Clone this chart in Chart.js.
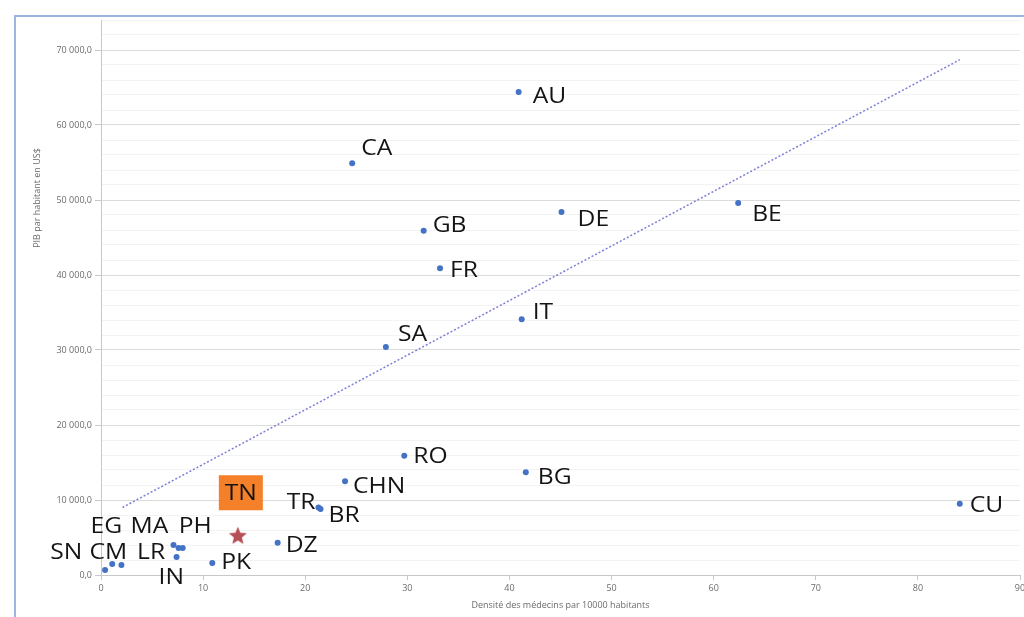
<!DOCTYPE html>
<html>
<head>
<meta charset="utf-8">
<script src="https://cdn.jsdelivr.net/npm/chart.js@4"></script>
<style>
  html, body { margin: 0; padding: 0; background: #fff; overflow: hidden; }
  #wrap { width: 1024px; height: 617px; overflow: hidden; }
</style>
</head>
<body>
<div id="wrap"><canvas id="chart" width="1032" height="617"></canvas></div>
<script>
// données
const pays = ["AU", "CA", "GB", "DE", "BE", "FR", "IT", "SA", "RO", "BG", "CHN", "TR", "BR", "CU", "DZ", "PK", "EG", "MA", "PH", "IN", "SN", "CM", "LR"];
const densite = [40.9, 24.6, 31.6, 45.1, 62.4, 33.2, 41.2, 27.9, 29.7, 41.6, 23.9, 21.3, 21.5, 84.1, 17.3, 10.9, 7.1, 7.6, 8.0, 7.4, 1.1, 2.0, 0.4];
const pib = [64400, 54900, 45900, 48400, 49600, 40900, 34100, 30400, 15900, 13700, 12500, 9000, 8800, 9500, 4300, 1600, 4000, 3600, 3600, 2400, 1470, 1330, 670];

// Tunisie (étoile)
const tnDensite = [13.4];
const tnPib = [5300];

// courbe de tendance
const tendanceX = [2.1, 84.1];
const tendanceY = [9000, 68700];

// axes
const xTicks = [0, 10, 20, 30, 40, 50, 60, 70, 80, 90];
const yTicks = [0, 10000, 20000, 30000, 40000, 50000, 60000, 70000];

// décalage des étiquettes par rapport au point [dx, dy]
const decalage = {
  AU: [14, 5], CA: [9, -15], GB: [9, -5], DE: [16, 8], BE: [14, 12], FR: [10, 2],
  IT: [11, -7], SA: [12, -12], RO: [9, 1], BG: [12, 5], CHN: [8, 5], TR: [-3, -5],
  BR: [8, 7], CU: [10, 2], DZ: [8, 3], PK: [9, 0], EG: [-83, -18], MA: [-48, -21],
  PH: [-4, -21], IN: [-18, 21], SN: [-62, -11], CM: [-32, -12], LR: [32, -17],
};

// étoile pleine pour TN
function starImage() {
  const c = document.createElement("canvas");
  c.width = 22;
  c.height = 22;
  const g = c.getContext("2d");
  g.beginPath();
  for (let i = 0; i < 10; i++) {
    const r = i % 2 === 0 ? 9.5 : 4.2;
    const a = -Math.PI / 2 + (i * Math.PI) / 5;
    g.lineTo(11 + r * Math.cos(a), 12 + r * Math.sin(a));
  }
  g.closePath();
  g.fillStyle = "#b54e55";
  g.fill();
  return c;
}

function frNombre(v) {
  const s = Math.round(v).toString().replace(/\B(?=(\d{3})+(?!\d))/g, " ");
  return s + ",0";
}

// texte élargi (la police d'origine est plus large)
function texteLarge(ctx, txt, x, y, align) {
  const sx = 1.12;
  const w = ctx.measureText(txt).width * sx;
  let left = x;
  if (align === "right") left = x - w;
  if (align === "center") left = x - w / 2;
  ctx.save();
  ctx.translate(left, y);
  ctx.scale(sx, 1);
  ctx.textAlign = "left";
  ctx.fillText(txt, 0, 0);
  ctx.restore();
}

// fond, cadre, titre vertical et étiquettes
const decorPlugin = {
  id: "decor",
  beforeDraw(chart) {
    const ctx = chart.ctx;
    ctx.save();
    ctx.fillStyle = "#fff";
    ctx.fillRect(0, 0, chart.width, chart.height);
    ctx.strokeStyle = "#98b6e2";
    ctx.lineWidth = 2;
    ctx.strokeRect(15, 16, 1100, 700);
    ctx.restore();
  },
  afterDatasetsDraw(chart) {
    const ctx = chart.ctx;
    ctx.save();
    // titre de l'axe Y
    ctx.translate(37, 198);
    ctx.rotate(-Math.PI / 2);
    ctx.font = "9px 'Open Sans'";
    ctx.fillStyle = "#6b6b6b";
    ctx.textAlign = "center";
    ctx.textBaseline = "middle";
    ctx.fillText("PIB par habitant en US$", 0, 0);
    ctx.restore();

    const pts = chart.getDatasetMeta(1).data;
    ctx.save();
    ctx.font = "22px 'Open Sans'";
    ctx.fillStyle = "#141414";
    ctx.textBaseline = "middle";
    pts.forEach((p, i) => {
      const d = decalage[pays[i]] || [8, 0];
      texteLarge(ctx, pays[i], p.x + d[0], p.y + d[1], pays[i] === "TR" ? "right" : "left");
    });

    // encadré TN
    const tn = chart.getDatasetMeta(2).data[0];
    ctx.fillStyle = "#f5802a";
    ctx.fillRect(tn.x - 19, tn.y - 60, 44, 35);
    ctx.fillStyle = "#141414";
    texteLarge(ctx, "TN", tn.x + 3, tn.y - 42, "center");
    ctx.restore();
  },
};

function nuage() {
  const data = {
    datasets: [
      {
        type: "line",
        data: tendanceX.map((x, i) => ({ x: x, y: tendanceY[i] })),
        borderColor: "#7b7fd6",
        borderWidth: 1.5,
        borderDash: [2, 2],
        pointRadius: 0,
        fill: false,
      },
      {
        data: densite.map((x, i) => ({ x: x, y: pib[i] })),
        backgroundColor: "#4472c4",
        borderColor: "#4472c4",
        pointRadius: 3,
        borderWidth: 0,
      },
      {
        data: tnDensite.map((x, i) => ({ x: x, y: tnPib[i] })),
        pointStyle: starImage(),
        pointRadius: 11,
      },
    ],
  };

  const options = {
    responsive: false,
    animation: false,
    layout: { padding: { left: 15, top: 20, right: 4, bottom: 0 } },
    plugins: {
      legend: { display: false },
      tooltip: { enabled: false },
    },
    scales: {
      x: {
        type: "linear",
        min: 0,
        max: 90,
        afterBuildTicks(scale) {
          scale.ticks = xTicks.map((v) => ({ value: v }));
        },
        afterFit(scale) {
          scale.height = 42;
        },
        grid: { drawOnChartArea: false, color: "#c8c8c8", tickLength: 5 },
        border: { color: "#c8c8c8" },
        ticks: { color: "#6b6b6b", font: { size: 9, family: "'Open Sans'" }, padding: 3, maxRotation: 0 },
        title: {
          display: true,
          text: "Densité des médecins par 10000 habitants",
          color: "#6b6b6b",
          font: { size: 9, family: "'Open Sans'" },
          padding: { top: 0, bottom: 6 },
        },
      },
      y: {
        min: 0,
        max: 74000,
        ticks: {
          stepSize: 2000,
          autoSkip: false,
          color: "#6b6b6b",
          font: { size: 9, family: "'Open Sans'" },
          padding: 3,
          callback: (v) => (yTicks.includes(v) ? frNombre(v) : ""),
        },
        afterFit(scale) {
          scale.width = 86;
        },
        grid: {
          tickLength: 6,
          color: (c) => (c.tick && yTicks.includes(c.tick.value) ? "#dcdcdc" : "#f3f3f3"),
          tickColor: (c) => (c.tick && yTicks.includes(c.tick.value) ? "#c8c8c8" : "transparent"),
        },
        border: { color: "#c8c8c8" },
      },
    },
  };

  new Chart(document.getElementById("chart"), {
    type: "scatter",
    data: data,
    options: options,
    plugins: [decorPlugin],
  });
}
nuage();
</script>
</body>
</html>
